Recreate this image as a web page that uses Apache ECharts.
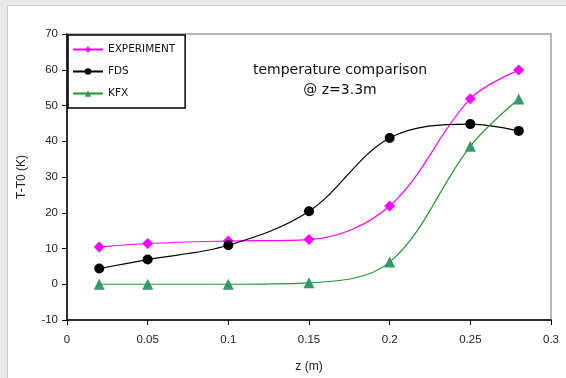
<!DOCTYPE html>
<html>
<head>
<meta charset="utf-8">
<script src="https://cdn.jsdelivr.net/npm/echarts@6/dist/echarts.min.js"></script>
<style>
html,body{margin:0;padding:0;width:566px;height:378px;overflow:hidden;background:#e9e9e9;}
#panel{position:absolute;left:7px;top:5px;width:570px;height:380px;background:#fff;border-left:1px solid #cccccc;border-top:1px solid #cccccc;}
#chart{position:absolute;left:0;top:0;width:566px;height:378px;}
</style>
</head>
<body>
<div id="panel"></div>
<div id="chart"></div>
<script>
const zValues = [0.02, 0.05, 0.1, 0.15, 0.2, 0.25, 0.28];
const experiment = [10.4, 11.4, 12.1, 12.5, 21.9, 51.9, 59.9];
const fds = [4.4, 6.9, 10.9, 20.4, 40.9, 44.8, 42.9];
const kfx = [0, 0, 0, 0.4, 6.2, 38.6, 51.8];
const seriesNames = ['EXPERIMENT', 'FDS', 'KFX'];
const titleLines = ['temperature comparison', '@ z=3.3m'];

function pairs(ys){ return zValues.map((z,i)=>[z, ys[i]]); }

const chart = echarts.init(document.getElementById('chart'), null, {renderer:'canvas'});
const labelFont = {fontFamily:'Liberation Sans, Arial, sans-serif', fontSize:11, color:'#222'};
chart.setOption({
  animation:false,
  backgroundColor:'transparent',
  title:{
    text:titleLines.join('\n'),
    left:335, top:55, textAlign:'center',
    textStyle:{fontFamily:'DejaVu Sans, sans-serif', fontSize:14, fontWeight:'normal', color:'#111', lineHeight:20}
  },
  grid:{left:67, right:15, top:34, bottom:57, show:true, borderColor:'#a0a0a0', borderWidth:1.5, backgroundColor:'transparent'},
  legend:{
    orient:'vertical', left:68, top:35,
    backgroundColor:'#fff', borderColor:'#000', borderWidth:1.5,
    padding:[9,10,9,4], itemGap:11, itemWidth:30, itemHeight:8, itemTextGap:8,
    textStyle:{fontFamily:'DejaVu Sans, sans-serif', fontSize:10.5, color:'#111'},
    data:seriesNames
  },
  xAxis:{
    type:'value', min:0, max:0.3, interval:0.05,
    name:'z (m)', nameLocation:'middle', nameGap:41,
    nameTextStyle:Object.assign({}, labelFont, {fontSize:12}),
    axisLine:{show:true, onZero:false, lineStyle:{color:'#000', width:1.5}},
    axisTick:{show:true, length:5, lineStyle:{color:'#000'}},
    axisLabel:Object.assign({margin:14}, labelFont, {fontSize:11.5}),
    splitLine:{show:false}
  },
  yAxis:{
    type:'value', min:-10, max:70, interval:10,
    name:'T-T0 (K)', nameLocation:'middle', nameGap:39, nameRotate:90,
    nameTextStyle:Object.assign({}, labelFont, {fontSize:12}),
    axisLine:{show:true, onZero:false, lineStyle:{color:'#000', width:1.5}},
    axisTick:{show:true, length:5, lineStyle:{color:'#000'}},
    axisLabel:Object.assign({margin:9}, labelFont, {fontSize:11.5}),
    splitLine:{show:false}
  },
  series:[
    {name:seriesNames[0], type:'line', data:pairs(experiment), smooth:0.35,
     symbol:'diamond', symbolSize:11,
     lineStyle:{color:'#ff00ff', width:1.2}, itemStyle:{color:'#ff00ff'}},
    {name:seriesNames[1], type:'line', data:pairs(fds), smooth:0.35,
     symbol:'circle', symbolSize:10,
     lineStyle:{color:'#000', width:1.2}, itemStyle:{color:'#000'}},
    {name:seriesNames[2], type:'line', data:pairs(kfx), smooth:0.35,
     symbol:'triangle', symbolSize:11,
     lineStyle:{color:'#1e9a2e', width:1.2}, itemStyle:{color:'#339966'}}
  ]
});
</script>
</body>
</html>
